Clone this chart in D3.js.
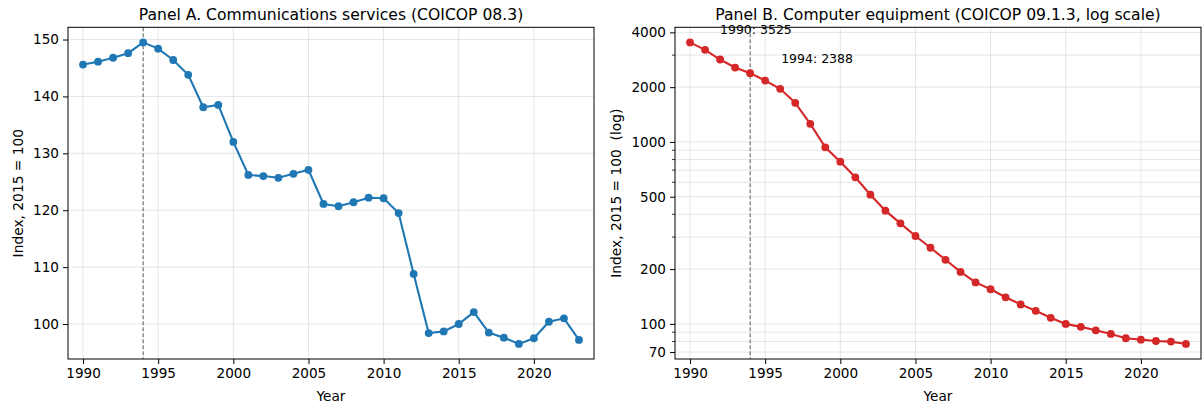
<!DOCTYPE html>
<html>
<head>
<meta charset="utf-8">
<script src="https://cdn.jsdelivr.net/npm/d3@7"></script>
<style>
  body { margin: 0; background: #fff; }
  text { font-family: "DejaVu Sans", sans-serif; fill: #000; }
  .grid line { stroke: #b0b0b0; stroke-opacity: 0.4; stroke-width: 0.8; }
  .axis path, .axis line { stroke: #000; stroke-width: 1; }
</style>
</head>
<body>
<div id="chart"></div>
<script>
const years = d3.range(1990, 2024);
const commValues = [145.6, 146.1, 146.8, 147.6, 149.5, 148.4, 146.4, 143.8, 138.1, 138.5,
                    132.0, 126.2, 126.0, 125.7, 126.4, 127.1, 121.1, 120.7, 121.4, 122.2,
                    122.1, 119.5, 108.8, 98.4, 98.7, 100.0, 102.1, 98.5, 97.6, 96.5,
                    97.5, 100.4, 101.0, 97.2];
const compValues = [3525, 3209, 2838, 2564, 2388, 2174, 1958, 1640, 1257, 934,
                    779, 639, 513, 419, 357, 304, 262, 225, 193, 169,
                    155, 140, 128, 118, 108, 100, 96.3, 92.2, 88.1, 83.4,
                    81.9, 80.5, 79.9, 77.6];
const xTicks = [1990, 1995, 2000, 2005, 2010, 2015, 2020];
const commTicks = [100, 110, 120, 130, 140, 150];
const compTicks = [70, 100, 200, 500, 1000, 2000, 4000];
const markYear = 1994;
const notes = [
  {year: 1990, label: '1990: 3525', dx: 30, dy: -8},
  {year: 1994, label: '1994: 2388', dx: 31, dy: -10}
];

const W = 1202, H = 405;
const svg = d3.select('#chart').append('svg')
  .attr('width', W).attr('height', H);

const plotTop = 27.3, plotBottom = 359;

function pad(lo, hi) { const r = hi - lo; return [lo - 0.05 * r, hi + 0.05 * r]; }

function panel(opt) {
  const g = svg.append('g');
  const x = d3.scaleLinear().domain([1989, 2024]).range([opt.left, opt.right]);
  let y;
  if (opt.log) {
    const ext = pad(Math.log10(d3.min(opt.values)), Math.log10(d3.max(opt.values)));
    y = d3.scaleLog().domain([Math.pow(10, ext[0]), Math.pow(10, ext[1])]).range([plotBottom, plotTop]);
  } else {
    y = d3.scaleLinear().domain(pad(d3.min(opt.values), d3.max(opt.values))).range([plotBottom, plotTop]);
  }

  // grid
  const grid = g.append('g').attr('class', 'grid');
  grid.selectAll('.gx').data(xTicks).join('line')
    .attr('x1', d => x(d)).attr('x2', d => x(d))
    .attr('y1', plotTop).attr('y2', plotBottom);
  let gridY = opt.yTicks;
  let minorY = [];
  if (opt.log) {
    const [lo, hi] = y.domain();
    gridY = [];
    for (let k = 1; k <= 4; k++) {
      for (let n = 1; n <= 9; n++) {
        const v = n * Math.pow(10, k);
        if (v >= lo && v <= hi) gridY.push(v);
      }
    }
    minorY = gridY.filter(v => !opt.yTicks.includes(v));
  }
  grid.selectAll('.gy').data(gridY).join('line')
    .attr('x1', opt.left).attr('x2', opt.right)
    .attr('y1', d => y(d)).attr('y2', d => y(d));

  // reference line
  g.append('line')
    .attr('x1', x(markYear)).attr('x2', x(markYear))
    .attr('y1', plotTop).attr('y2', plotBottom)
    .attr('stroke', '#555').attr('stroke-width', 1)
    .attr('stroke-dasharray', '4,2');

  // series
  const line = d3.line().x((d, i) => x(years[i])).y(d => y(d));
  g.append('path').datum(opt.values)
    .attr('d', line).attr('fill', 'none')
    .attr('stroke', opt.color).attr('stroke-width', 2.1);
  g.selectAll('.pt').data(opt.values).join('circle')
    .attr('cx', (d, i) => x(years[i])).attr('cy', d => y(d))
    .attr('r', 3.9).attr('fill', opt.color);

  // frame
  g.append('rect')
    .attr('x', opt.left).attr('y', plotTop)
    .attr('width', opt.right - opt.left).attr('height', plotBottom - plotTop)
    .attr('fill', 'none').attr('stroke', '#000').attr('stroke-width', 1);

  // axes
  const ax = g.append('g').attr('class', 'axis')
    .attr('transform', `translate(0,${plotBottom})`)
    .call(d3.axisBottom(x).tickValues(xTicks).tickFormat(d3.format('d')).tickSize(5).tickSizeOuter(0).tickPadding(4));
  ax.select('.domain').remove();
  ax.selectAll('text').attr('font-size', 13.6).attr('font-family', '"DejaVu Sans", sans-serif');

  const ay = g.append('g').attr('class', 'axis')
    .attr('transform', `translate(${opt.left},0)`)
    .call(d3.axisLeft(y).tickValues(opt.yTicks).tickFormat(d3.format('d')).tickSize(5).tickSizeOuter(0).tickPadding(4));
  ay.select('.domain').remove();
  ay.selectAll('text').attr('font-size', 13.6).attr('font-family', '"DejaVu Sans", sans-serif');

  if (minorY.length) {
    g.append('g').selectAll('line').data(minorY).join('line')
      .attr('x1', opt.left - 3).attr('x2', opt.left)
      .attr('y1', d => y(d)).attr('y2', d => y(d))
      .attr('stroke', '#000').attr('stroke-width', 0.8);
  }

  // labels
  g.append('text')
    .attr('x', (opt.left + opt.right) / 2).attr('y', 20)
    .attr('text-anchor', 'middle').attr('font-size', 15.6)
    .text(opt.title);
  g.append('text')
    .attr('x', (opt.left + opt.right) / 2).attr('y', 401)
    .attr('text-anchor', 'middle').attr('font-size', 13.6)
    .text('Year');
  g.append('text')
    .attr('transform', `translate(${opt.ylabX},${(plotTop + plotBottom) / 2}) rotate(-90)`)
    .attr('text-anchor', 'middle').attr('dominant-baseline', 'central').attr('font-size', 13.8)
    .style('white-space', 'pre')
    .text(opt.ylabel);

  return {g, x, y};
}

panel({
  left: 68, right: 594, values: commValues, yTicks: commTicks, log: false,
  color: '#1f77b4', title: 'Panel A. Communications services (COICOP 08.3)',
  ylabel: 'Index, 2015 = 100', ylabX: 18
});

const pB = panel({
  left: 675, right: 1201, values: compValues, yTicks: compTicks, log: true,
  color: '#d62728', title: 'Panel B. Computer equipment (COICOP 09.1.3, log scale)',
  ylabel: 'Index, 2015 = 100  (log)', ylabX: 616
});

pB.g.selectAll('.note').data(notes).join('text')
  .attr('x', d => pB.x(d.year) + d.dx)
  .attr('y', d => pB.y(compValues[years.indexOf(d.year)]) + d.dy)
  .attr('font-size', 12.5)
  .text(d => d.label);
</script>
</body>
</html>
